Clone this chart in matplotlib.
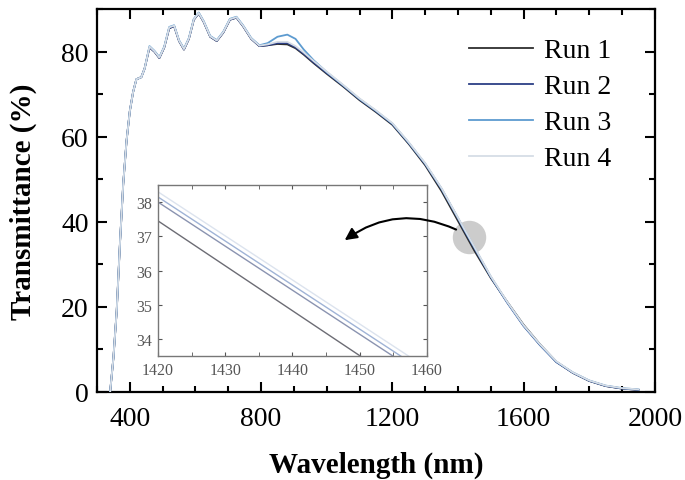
import matplotlib.pyplot as plt
from matplotlib.ticker import MultipleLocator

plt.rcParams['font.family'] = ['Liberation Serif', 'DejaVu Serif']

# Comprimento de onda (nm) e transmitância (%) de cada medida
wavelength = [340, 350, 360, 370, 380, 390, 400, 410, 420, 435, 445, 460, 475, 490,
              505, 520, 535, 550, 565, 580, 595, 610, 625, 645, 665, 685, 705, 725,
              745, 770, 795, 820, 850, 880, 905, 930, 960, 1000, 1050, 1100, 1150,
              1200, 1250, 1300, 1350, 1400, 1420, 1450, 1500, 1550, 1600, 1650, 1700,
              1750, 1800, 1850, 1900, 1950]
run1 = [0, 8, 19, 35, 49, 59, 66, 70.5, 73.5, 74, 76, 81, 80, 78.5,
        81, 85.5, 86, 82.5, 80.5, 83, 87.5, 89, 87, 83.5, 82.5, 84.5, 87.5, 88,
        86, 83, 81.3, 81.5, 81.8, 81.7, 80.8, 79.3, 77.3, 74.8, 71.8, 68.6, 65.8,
        62.8, 58.3, 53.3, 47.2, 40.2, 37.4, 33.2, 26.8, 21.2, 15.8, 11.2, 7.1,
        4.5, 2.6, 1.4, 0.8, 0.5]
run2 = [0, 8, 19, 35, 49, 59, 66, 70.5, 73.5, 74, 76, 81, 80, 78.5,
        81, 85.5, 86, 82.5, 80.5, 83, 87.5, 89, 87, 83.5, 82.5, 84.5, 87.5, 88,
        86, 83, 81.3, 81.5, 82, 82, 81, 79.5, 77.5, 75, 72, 68.8, 66,
        63, 58.5, 53.6, 47.7, 40.8, 37.9, 33.8, 27, 21, 15.5, 11, 7,
        4.5, 2.6, 1.4, 0.8, 0.5]
run3 = [0, 8, 19, 35, 49, 59, 66, 70.5, 73.5, 74, 76, 81.3, 80.2, 78.7,
        81.2, 85.8, 86.2, 82.7, 80.7, 83.2, 87.7, 89.2, 87.2, 83.7, 82.7, 84.7, 87.7, 88.2,
        86.2, 83.2, 81.5, 82, 83.5, 84, 83, 80.5, 78, 75.2, 72.1, 68.9, 66.1,
        63.1, 58.6, 53.7, 47.8, 40.9, 38.1, 34, 27.1, 21.1, 15.6, 11.1, 7.1,
        4.6, 2.7, 1.5, 0.9, 0.6]
run4 = [0, 8, 19, 35, 49, 59, 66, 70.5, 73.5, 74, 76, 81.2, 80.1, 78.6,
        81.1, 85.7, 86.1, 82.6, 80.6, 83.1, 87.6, 89.1, 87.1, 83.6, 82.6, 84.6, 87.6, 88.1,
        86.1, 83.1, 81.4, 81.7, 82.3, 82.3, 81.3, 79.8, 77.8, 75.3, 72.2, 69, 66.2,
        63.2, 58.7, 53.8, 47.9, 41, 38.2, 34.1, 27.2, 21.2, 15.7, 11.2, 7.2,
        4.6, 2.7, 1.5, 0.9, 0.6]

# Detalhe (inset) entre 1420 e 1460 nm
inset_wl = [1420, 1460]
inset_run1 = [37.45, 32.2]
inset_run2 = [38.0, 32.85]
inset_run3 = [38.15, 33.0]
inset_run4 = [38.3, 33.15]

labels = ["Run 1", "Run 2", "Run 3", "Run 4"]
cores = ['#2e2e2e', '#2c3f86', '#5d9bd0', '#d6dde6']
cores_inset = ['#6c6c74', '#8a93b0', '#9fb3d6', '#dce3ee']

fig = plt.figure(figsize=(6.85, 4.81), dpi=100)
ax = fig.add_axes([0.1416, 0.183, 0.8144, 0.796])

for y, lab, c in zip([run1, run2, run3, run4], labels, cores):
    ax.plot(wavelength, y, color=c, linewidth=1.3, label=lab, zorder=3)

# círculo cinza marcando a região ampliada
ax.scatter([1433], [36.5], s=580, color='#cccccc', zorder=2, linewidths=0)

ax.set_xlim(300, 2000)
ax.set_ylim(0, 90)
ax.xaxis.set_major_locator(MultipleLocator(400))
ax.xaxis.set_minor_locator(MultipleLocator(100))
ax.yaxis.set_major_locator(MultipleLocator(20))
ax.yaxis.set_minor_locator(MultipleLocator(10))
ax.tick_params(which='both', direction='in', top=True, right=True, width=1.5)
ax.tick_params(which='major', length=7, labelsize=20, pad=6)
ax.tick_params(axis='x', which='major', pad=10)
ax.tick_params(which='minor', length=4.5)
for s in ax.spines.values():
    s.set_linewidth(1.6)

ax.set_xlabel("Wavelength (nm)", fontsize=21, fontweight='bold', labelpad=14)
ax.set_ylabel("Transmittance (%)", fontsize=21, fontweight='bold', labelpad=17)

ax.legend(loc='upper right', bbox_to_anchor=(0.967, 0.99), frameon=False,
          fontsize=20, handlelength=2.3, handletextpad=0.4, labelspacing=0.38)

# inset
axi = fig.add_axes([0.2307, 0.2578, 0.3923, 0.3555])
for y, c in zip([inset_run1, inset_run2, inset_run3, inset_run4], cores_inset):
    axi.plot(inset_wl, y, color=c, linewidth=1.0)
axi.set_xlim(1420, 1460)
axi.set_ylim(33.5, 38.5)
axi.xaxis.set_major_locator(MultipleLocator(10))
axi.xaxis.set_minor_locator(MultipleLocator(5))
axi.yaxis.set_major_locator(MultipleLocator(1))
axi.tick_params(which='both', direction='in', top=True, right=True,
                labelsize=11.5, colors='#555555', length=3, pad=4)
for s in axi.spines.values():
    s.set_color('#777777')
    s.set_linewidth(1.0)

# seta curva apontando para o inset (desenhada por cima do inset)
axi.annotate("", xy=(1048, 35.3), xytext=(1402, 37.9),
             xycoords=ax.transData, textcoords=ax.transData,
             arrowprops=dict(arrowstyle='-|>', connectionstyle='arc3,rad=0.3',
                             color='black', lw=1.5, mutation_scale=18),
             annotation_clip=False)

fig.savefig("out.png", dpi=100)
